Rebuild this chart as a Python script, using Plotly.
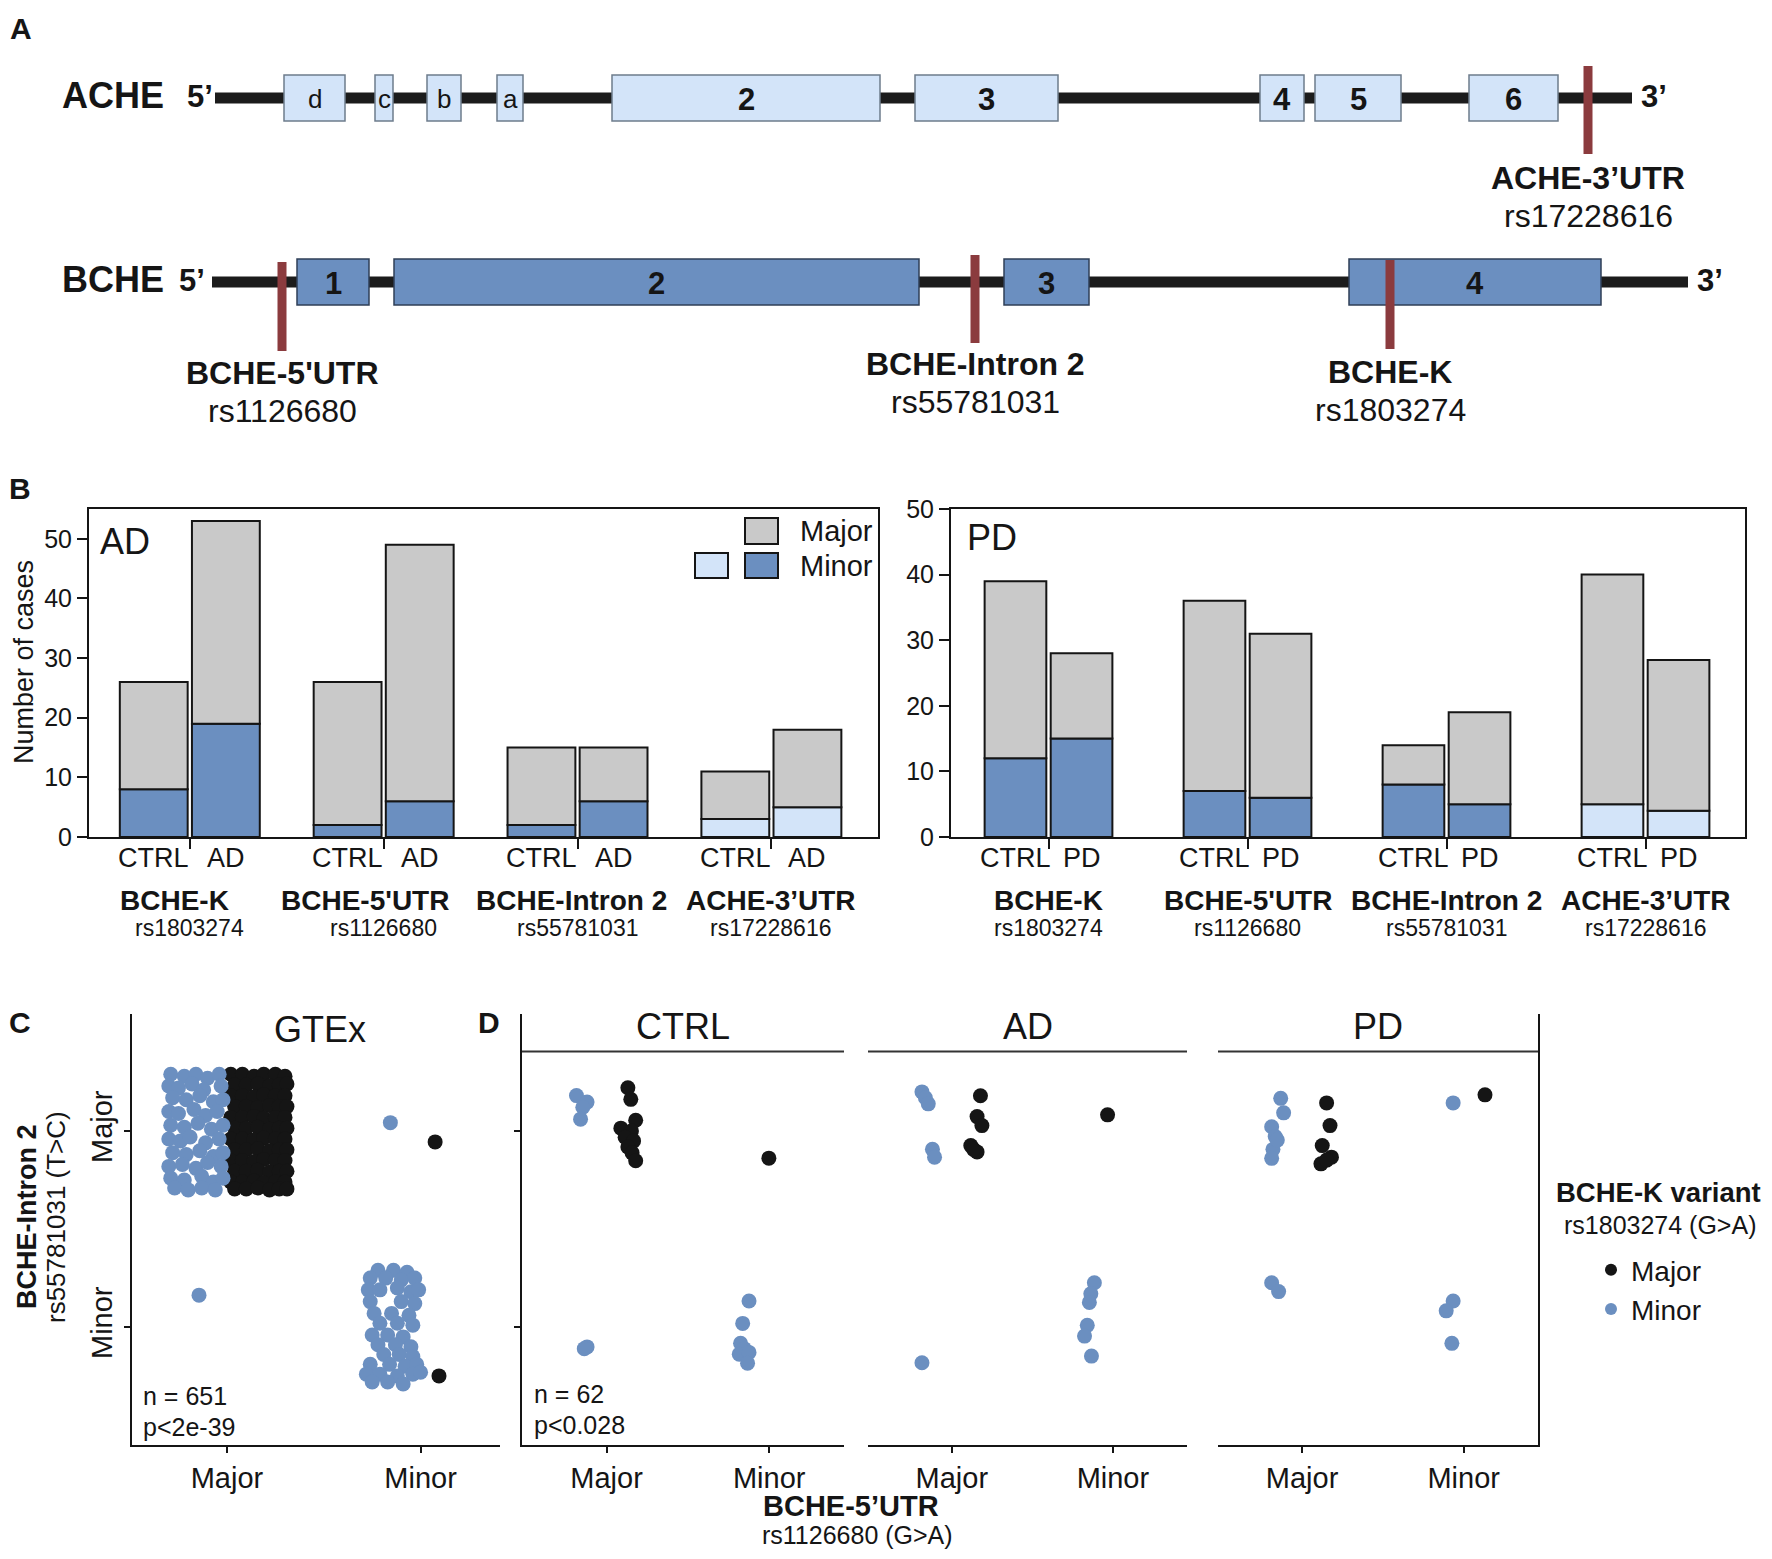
import plotly.graph_objects as go

W, H = 1772, 1559          # reference picture size
OFF = 8                    # page body margin of the browser
FW, FH = W - 2 * OFF, H - 2 * OFF
FONT = "Liberation Sans, Arial, Helvetica, sans-serif"
INK = "#151515"
BLUE = "#6b8fc0"
LIGHT = "#d3e4f9"
GREY = "#c9c9c9"
SNPRED = "#8b3b3e"

# ---------------- Panel A: gene structures ----------------
gene_names = ["ACHE", "BCHE"]
gene_row = [98, 282]
gene_span_start = [215, 212]
gene_span_end = [1632, 1688]
ache_exon_labels = ["d", "c", "b", "a", "2", "3", "4", "5", "6"]
ache_exon_start = [284, 375, 427, 497, 612, 915, 1260, 1315, 1469]
ache_exon_end = [345, 393, 461, 523, 880, 1058, 1304, 1401, 1558]
bche_exon_labels = ["1", "2", "3", "4"]
bche_exon_start = [297, 394, 1004, 1349]
bche_exon_end = [369, 919, 1089, 1601]
snp_names = ["ACHE-3’UTR", "BCHE-5'UTR", "BCHE-Intron 2", "BCHE-K"]
snp_ids = ["rs17228616", "rs1126680", "rs55781031", "rs1803274"]
snp_pos = [1588, 282, 975, 1390]
snp_top = [66, 262, 255, 260]
snp_bottom = [154, 351, 343, 349]

# ---------------- Panel B: case counts ----------------
snp_groups = ["BCHE-K", "BCHE-5'UTR", "BCHE-Intron 2", "ACHE-3’UTR"]
snp_rs = ["rs1803274", "rs1126680", "rs55781031", "rs17228616"]
ad_ctrl_total = [26, 26, 15, 11]
ad_ctrl_minor = [8, 2, 2, 3]
ad_case_total = [53, 49, 15, 18]
ad_case_minor = [19, 6, 6, 5]
pd_ctrl_total = [39, 36, 14, 40]
pd_ctrl_minor = [12, 7, 8, 5]
pd_case_total = [28, 31, 19, 27]
pd_case_minor = [15, 6, 5, 4]
ache_group = [False, False, False, True]

# ---------------- Panel C: GTEx genotypes (x: 1 = Major, 2 = Minor; y: 2 = Major, 1 = Minor) ----
gtex_bk_mm_dx = [0.02, 0.08, 0.14, 0.19, 0.25, 0.30, 0.04, 0.10, 0.16, 0.22, 0.27, 0.31,
                 0.02, 0.08, 0.14, 0.19, 0.25, 0.30, 0.04, 0.10, 0.16, 0.22, 0.27, 0.31,
                 0.02, 0.08, 0.14, 0.19, 0.25, 0.30, 0.04, 0.10, 0.16, 0.22, 0.27, 0.31,
                 0.02, 0.08, 0.14, 0.19, 0.25, 0.30, 0.04, 0.10, 0.16, 0.22, 0.27, 0.31,
                 0.02, 0.08, 0.14, 0.19, 0.25, 0.30, 0.04, 0.10, 0.16, 0.22, 0.27, 0.31,
                 0.02, 0.08, 0.14, 0.19, 0.25, 0.30, 0.04, 0.10, 0.16, 0.22, 0.27, 0.31]
gtex_bk_mm_dy = [0.29, 0.29, 0.28, 0.29, 0.29, 0.28, 0.235, 0.235, 0.24, 0.23, 0.235, 0.24,
                 0.18, 0.18, 0.175, 0.185, 0.18, 0.18, 0.125, 0.125, 0.12, 0.13, 0.125, 0.125,
                 0.07, 0.07, 0.075, 0.065, 0.07, 0.07, 0.015, 0.015, 0.02, 0.01, 0.015, 0.015,
                 -0.04, -0.04, -0.045, -0.035, -0.04, -0.04, -0.095, -0.095, -0.09, -0.10, -0.095, -0.095,
                 -0.15, -0.15, -0.155, -0.145, -0.15, -0.15, -0.205, -0.205, -0.20, -0.21, -0.205, -0.205,
                 -0.26, -0.26, -0.255, -0.265, -0.26, -0.26, -0.295, -0.295, -0.29, -0.30, -0.295, -0.295]
gtex_bl_mm_dx = [-0.29, -0.22, -0.16, -0.10, -0.04, -0.30, -0.25, -0.18, -0.12, -0.03,
                 -0.28, -0.21, -0.14, -0.07, -0.02, -0.30, -0.25, -0.17, -0.11, -0.05,
                 -0.29, -0.22, -0.15, -0.08, -0.02, -0.30, -0.24, -0.19, -0.11, -0.04,
                 -0.28, -0.21, -0.14, -0.07, -0.02, -0.30, -0.23, -0.16, -0.10, -0.03,
                 -0.29, -0.22, -0.13, -0.07, -0.02, -0.27, -0.20, -0.13, -0.06]
gtex_bl_mm_dy = [0.29, 0.28, 0.29, 0.27, 0.29, 0.23, 0.22, 0.24, 0.21, 0.23,
                 0.17, 0.16, 0.18, 0.15, 0.16, 0.10, 0.09, 0.11, 0.08, 0.10,
                 0.03, 0.02, 0.04, 0.01, 0.03, -0.04, -0.05, -0.03, -0.06, -0.04,
                 -0.11, -0.12, -0.10, -0.13, -0.11, -0.18, -0.17, -0.19, -0.16, -0.18,
                 -0.24, -0.25, -0.23, -0.26, -0.24, -0.29, -0.30, -0.29, -0.30]
gtex_bl_nn_dx = [-0.22, -0.14, -0.07, -0.26, -0.18, -0.10, -0.03, -0.27, -0.21, -0.12, -0.05, -0.01,
                 -0.26, -0.10, -0.03, -0.24, -0.15, -0.06, -0.21, -0.12, -0.04, -0.25, -0.17, -0.09,
                 -0.22, -0.13, -0.05, -0.19, -0.11, -0.04, -0.26, -0.16, -0.08, -0.02,
                 -0.28, -0.21, -0.12, -0.04, 0.00, -0.25, -0.17, -0.09]
gtex_bl_nn_dy = [0.29, 0.29, 0.28, 0.25, 0.25, 0.24, 0.25, 0.19, 0.19, 0.20, 0.18, 0.19,
                 0.13, 0.13, 0.12, 0.07, 0.07, 0.06, 0.02, 0.02, 0.01, -0.04, -0.04, -0.05,
                 -0.09, -0.09, -0.10, -0.14, -0.14, -0.15, -0.19, -0.19, -0.20, -0.19,
                 -0.24, -0.24, -0.25, -0.24, -0.23, -0.28, -0.28, -0.29]
gtex_bl_other_x = [0.856, 1.844]
gtex_bl_other_y = [1.163, 2.043]
gtex_bk_other_x = [2.075, 2.095]
gtex_bk_other_y = [1.945, 0.751]

# ---------------- Panel D: study cohorts ----------------
ctrl_bl_x = [0.815, 0.880, 0.854, 0.840, 0.880, 0.863, 1.876, 1.837, 1.824, 1.846, 1.816, 1.876, 1.867]
ctrl_bl_y = [2.181, 2.148, 2.122, 2.061, 0.899, 0.890, 1.133, 1.019, 0.917, 0.890, 0.862, 0.871, 0.816]
ctrl_bk_x = [1.131, 1.149, 1.179, 1.088, 1.153, 1.114, 1.166, 1.131, 1.157, 1.179, 1.998]
ctrl_bk_y = [2.221, 2.162, 2.055, 2.015, 2.000, 1.969, 1.950, 1.919, 1.889, 1.849, 1.862]
ad_bl_x = [0.815, 0.836, 0.854, 0.880, 0.893, 0.815, 1.885, 1.863, 1.854, 1.841, 1.824, 1.867]
ad_bl_y = [2.200, 2.170, 2.139, 1.907, 1.867, 0.818, 1.226, 1.170, 1.126, 1.009, 0.954, 0.852]
ad_bk_x = [1.178, 1.157, 1.187, 1.118, 1.157, 1.135, 1.967]
ad_bk_y = [2.180, 2.074, 2.028, 1.926, 1.894, 1.907, 2.083]
pd_bl_x = [0.868, 0.886, 0.812, 0.834, 0.820, 0.847, 0.812, 1.935, 0.812, 0.855, 1.935, 1.892, 1.927]
pd_bl_y = [2.167, 2.093, 2.022, 1.972, 1.907, 1.954, 1.861, 2.144, 1.226, 1.181, 1.133, 1.083, 0.917]
pd_bk_x = [1.152, 1.173, 1.125, 1.182, 1.117, 1.152, 2.132]
pd_bk_y = [2.144, 2.028, 1.926, 1.867, 1.833, 1.852, 2.185]
facet_names = ["CTRL", "AD", "PD"]
geno_labels = ["Major", "Minor"]


def px(x):
    return (x - OFF) / FW


def py(y):
    return 1 - (y - OFF) / FH


fig = go.Figure()
ann = []
shapes = []


def text(t, x, y, size, bold=False, xref="paper", yref="paper", xa="center", ya="middle", angle=0, xshift=0):
    if bold:
        t = "<b>" + t + "</b>"
    ann.append(dict(text=t, x=px(x) if xref == "paper" else x, y=py(y) if yref == "paper" else y,
                    xref=xref, yref=yref, xanchor=xa, yanchor=ya, showarrow=False, xshift=xshift,
                    textangle=angle, font=dict(family=FONT, size=size, color=INK)))


# ===== Panel A =====
for row, s, e in zip(gene_row, gene_span_start, gene_span_end):
    shapes.append(dict(type="line", xref="x", yref="y", x0=s, x1=e, y0=row, y1=row, layer="below",
                       line=dict(color="#1c1c1c", width=11)))
fig.add_trace(go.Bar(orientation="h", y=[gene_row[0]] * len(ache_exon_start),
                     x=[e - s for s, e in zip(ache_exon_start, ache_exon_end)], base=ache_exon_start,
                     width=46, marker=dict(color=LIGHT, line=dict(color="#6e7c8c", width=1.5)),
                     xaxis="x", yaxis="y", hoverinfo="skip", showlegend=False))
fig.add_trace(go.Bar(orientation="h", y=[gene_row[1]] * len(bche_exon_start),
                     x=[e - s for s, e in zip(bche_exon_start, bche_exon_end)], base=bche_exon_start,
                     width=46, marker=dict(color=BLUE, line=dict(color="#2f3f57", width=1.5)),
                     xaxis="x", yaxis="y", hoverinfo="skip", showlegend=False))
for p, t, b in zip(snp_pos, snp_top, snp_bottom):
    fig.add_trace(go.Scatter(x=[p, p], y=[t, b], mode="lines", line=dict(color=SNPRED, width=9),
                             xaxis="x", yaxis="y", hoverinfo="skip", showlegend=False))

for lab, s, e in zip(ache_exon_labels, ache_exon_start, ache_exon_end):
    isnum = lab.isdigit()
    text(lab, (s + e) / 2, gene_row[0] + 1, 31 if isnum else 26, bold=isnum, xref="x", yref="y")
for lab, s, e in zip(bche_exon_labels, bche_exon_start, bche_exon_end):
    text(lab, (s + e) / 2, gene_row[1] + 1, 31, bold=True, xref="x", yref="y")
for name, row in zip(gene_names, gene_row):
    text(name, 113, row - 3, 36, bold=True, xref="x", yref="y")
text("5’", 200, gene_row[0] - 2, 31, bold=True, xref="x", yref="y")
text("3’", 1654, gene_row[0] - 2, 31, bold=True, xref="x", yref="y")
text("5’", 192, gene_row[1] - 2, 31, bold=True, xref="x", yref="y")
text("3’", 1710, gene_row[1] - 2, 31, bold=True, xref="x", yref="y")
snp_label_y = [178, 373, 364, 372]
for name, rs, p, ly in zip(snp_names, snp_ids, snp_pos, snp_label_y):
    text(name, p, ly, 32, bold=True, xref="x", yref="y")
    text(rs, p, ly + 38, 32, xref="x", yref="y")

# ===== Panel B =====
panels_b = [
    ("x2", "y2", ad_ctrl_total, ad_ctrl_minor, ad_case_total, ad_case_minor, 0.186, 0.35, "AD", [-15, -19, -6, 0]),
    ("x3", "y3", pd_ctrl_total, pd_ctrl_minor, pd_case_total, pd_case_minor, 0.166, 0.31, "PD", [0, 0, 0, 0]),
]
for xa, ya, ct, cm, dt, dm, off, bw, case, shifts in panels_b:
    xs = [g - off for g in range(4)] + [g + off for g in range(4)]
    minor = cm + dm
    major = [t - m for t, m in zip(ct + dt, minor)]
    mcol = [LIGHT if a else BLUE for a in ache_group] * 2
    fig.add_trace(go.Bar(x=xs, y=minor, base=[0] * 8, width=bw,
                         marker=dict(color=mcol, line=dict(color=INK, width=2)),
                         xaxis=xa, yaxis=ya, hoverinfo="skip", showlegend=False))
    fig.add_trace(go.Bar(x=xs, y=major, base=minor, width=bw,
                         marker=dict(color=GREY, line=dict(color=INK, width=2)),
                         xaxis=xa, yaxis=ya, hoverinfo="skip", showlegend=False))
    for g in range(4):
        text("CTRL", g - off, 858, 27, xref=xa)
        text(case, g + off, 858, 27, xref=xa)
        text(snp_groups[g], g, 900, 28, bold=True, xref=xa, xshift=shifts[g])
        text(snp_rs[g], g, 928, 23, xref=xa)

text("AD", 98, 541, 36, xa="left")
text("PD", 965, 537, 36, xa="left")
text("Number of cases", 24, 662, 27, angle=-90)
for x0, x1, y0, y1, col in [(745, 778, 518, 544, GREY), (695, 728, 553, 578, LIGHT), (745, 778, 553, 578, BLUE)]:
    shapes.append(dict(type="rect", xref="paper", yref="paper", x0=px(x0), x1=px(x1), y0=py(y1), y1=py(y0),
                       fillcolor=col, line=dict(color=INK, width=2)))
text("Major", 798, 531, 29, xa="left")
text("Minor", 798, 566, 29, xa="left")

# ===== Panel C =====
fig.add_trace(go.Scatter(x=[1 + d for d in gtex_bk_mm_dx], y=[2 + d for d in gtex_bk_mm_dy], mode="markers",
                         marker=dict(color=INK, size=15), xaxis="x4", yaxis="y4", hoverinfo="skip", showlegend=False))
fig.add_trace(go.Scatter(x=gtex_bk_other_x, y=gtex_bk_other_y, mode="markers",
                         marker=dict(color=INK, size=15), xaxis="x4", yaxis="y4", hoverinfo="skip", showlegend=False))
fig.add_trace(go.Scatter(x=[1 + d for d in gtex_bl_mm_dx], y=[2 + d for d in gtex_bl_mm_dy], mode="markers",
                         marker=dict(color=BLUE, size=15), xaxis="x4", yaxis="y4", hoverinfo="skip", showlegend=False))
fig.add_trace(go.Scatter(x=[2 + d for d in gtex_bl_nn_dx], y=[1 + d for d in gtex_bl_nn_dy], mode="markers",
                         marker=dict(color=BLUE, size=15), xaxis="x4", yaxis="y4", hoverinfo="skip", showlegend=False))
fig.add_trace(go.Scatter(x=gtex_bl_other_x, y=gtex_bl_other_y, mode="markers",
                         marker=dict(color=BLUE, size=15), xaxis="x4", yaxis="y4", hoverinfo="skip", showlegend=False))
text("GTEx", 320, 1030, 36)
text("n = 651", 141, 1396, 25, xa="left")
text("p<2e-39", 141, 1427, 25, xa="left")
text("BCHE-Intron 2", 27, 1217, 27, bold=True, angle=-90)
text("rs55781031 (T>C)", 56, 1217, 26, angle=-90)

# ===== Panel D =====
facet_data = [(ctrl_bk_x, ctrl_bk_y, ctrl_bl_x, ctrl_bl_y), (ad_bk_x, ad_bk_y, ad_bl_x, ad_bl_y),
              (pd_bk_x, pd_bk_y, pd_bl_x, pd_bl_y)]
facet_dom = [(522, 844), (868, 1187), (1218, 1538)]
for i, (bkx, bky, blx, bly) in enumerate(facet_data):
    xa, ya = "x%d" % (5 + i), "y%d" % (5 + i)
    fig.add_trace(go.Scatter(x=bkx, y=bky, mode="markers", marker=dict(color=INK, size=15),
                             xaxis=xa, yaxis=ya, hoverinfo="skip", showlegend=False))
    fig.add_trace(go.Scatter(x=blx, y=bly, mode="markers", marker=dict(color=BLUE, size=15),
                             xaxis=xa, yaxis=ya, hoverinfo="skip", showlegend=False))
    d0, d1 = facet_dom[i]
    text(facet_names[i], (d0 + d1) / 2, 1026, 36)
    shapes.append(dict(type="line", xref="%s domain" % xa, yref="paper", x0=0, x1=1,
                       y0=py(1051.6), y1=py(1051.6), line=dict(color="#333333", width=2)))
text("n = 62", 532, 1394, 25, xa="left")
text("p<0.028", 532, 1425, 25, xa="left")
text("BCHE-5’UTR", 851, 1506, 29, bold=True)
text("rs1126680 (G>A)", 857, 1535, 25)

# legend (BCHE-K variant)
fig.add_trace(go.Scatter(x=[None], y=[None], mode="markers", name="Major", marker=dict(color=INK, size=12),
                         xaxis="x5", yaxis="y5", showlegend=True))
fig.add_trace(go.Scatter(x=[None], y=[None], mode="markers", name="Minor", marker=dict(color=BLUE, size=12),
                         xaxis="x5", yaxis="y5", showlegend=True))
text("BCHE-K variant", 1658, 1192, 27.5, bold=True)
text("rs1803274 (G>A)", 1660, 1225, 25)

for lt, x, y in [("A", 21, 29), ("B", 20, 489), ("C", 20, 1023), ("D", 489, 1023)]:
    text(lt, x, y, 30, bold=True)

# ---------------- axes ----------------
hidden = dict(visible=False, showgrid=False, zeroline=False, fixedrange=True)
frame = dict(showline=True, mirror=True, linecolor=INK, linewidth=2, showgrid=False, zeroline=False,
             ticks="outside", ticklen=10, tickwidth=2, tickcolor=INK,
             tickfont=dict(family=FONT, size=25, color=INK))
axC = dict(showline=True, linecolor=INK, linewidth=2, showgrid=False, zeroline=False, ticks="outside",
           ticklen=6, tickwidth=2, tickcolor=INK, tickfont=dict(family=FONT, size=29, color=INK))

layout = dict(
    width=FW, height=FH, margin=dict(l=0, r=0, t=0, b=0, pad=0, autoexpand=False),
    paper_bgcolor="white", plot_bgcolor="white",
    barmode="overlay", showlegend=True, annotations=ann, shapes=shapes,
    font=dict(family=FONT, color=INK),
    legend=dict(x=px(1591), y=py(1245), xanchor="left", yanchor="top", bgcolor="rgba(0,0,0,0)",
                font=dict(family=FONT, size=28, color=INK), itemsizing="trace", tracegroupgap=0),
    xaxis=dict(hidden, domain=[0, 1], range=[OFF, OFF + FW]),
    yaxis=dict(hidden, domain=[py(460), 1], range=[460, OFF]),
    xaxis2=dict(frame, domain=[px(89), px(878)], range=[-0.52, 3.55], tickvals=[0, 1, 2, 3],
                showticklabels=False, anchor="y2"),
    yaxis2=dict(frame, domain=[py(837), py(509)], range=[0, 55], tickvals=[0, 10, 20, 30, 40, 50], anchor="x2"),
    xaxis3=dict(frame, domain=[px(951), px(1745)], range=[-0.49, 3.5], tickvals=[0, 1, 2, 3],
                showticklabels=False, anchor="y3"),
    yaxis3=dict(frame, domain=[py(837), py(509)], range=[0, 50], tickvals=[0, 10, 20, 30, 40, 50], anchor="x3"),
    xaxis4=dict(axC, domain=[px(132), px(500)], range=[0.51, 2.41], tickvals=[1, 2], ticktext=geno_labels,
                anchor="y4"),
    yaxis4=dict(axC, domain=[py(1444.7), py(1013.5)], range=[0.4, 2.6], tickvals=[2, 1], ticktext=geno_labels,
                tickangle=-90, anchor="x4"),
)
for i, (d0, d1) in enumerate(facet_dom):
    n = 5 + i
    layout["xaxis%d" % n] = dict(axC, domain=[px(d0), px(d1)], range=[0.48, 2.46], tickvals=[1, 2],
                                 ticktext=geno_labels, anchor="y%d" % n)
    yax = dict(axC, domain=[py(1444.7), py(1013.5)], range=[0.4, 2.6], tickvals=[2, 1], showticklabels=False,
               anchor="x%d" % n)
    if i == 1:
        yax.update(showline=False, ticks="")
    if i == 2:
        yax.update(side="right", ticks="")
    layout["yaxis%d" % n] = yax

fig.update_layout(**layout)
fig.write_html("out.html")
